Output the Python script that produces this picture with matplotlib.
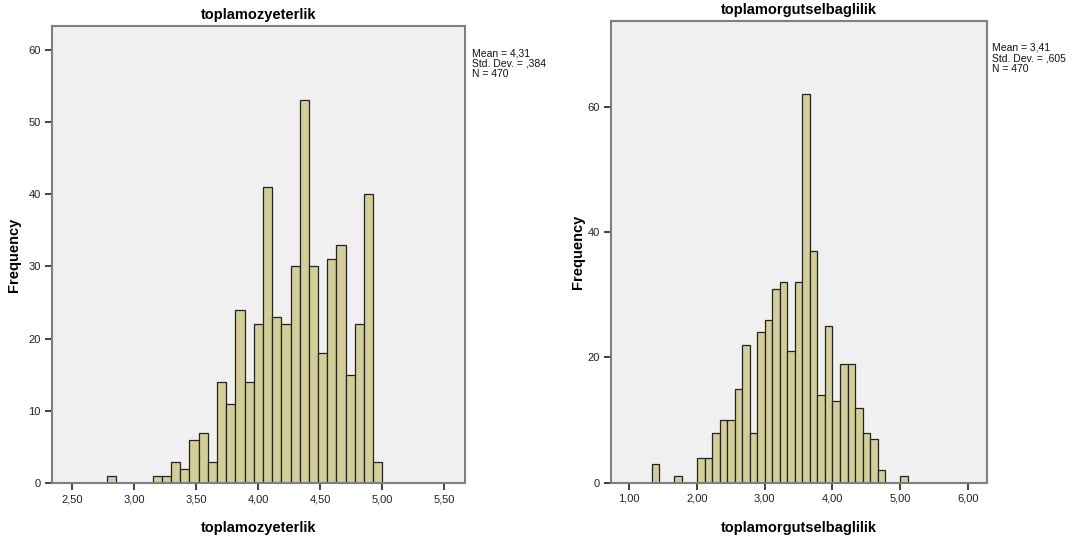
import matplotlib
matplotlib.use("Agg")
import matplotlib.pyplot as plt
import numpy as np

plt.rcParams["font.family"] = ["Liberation Sans", "DejaVu Sans"]

# toplamozyeterlik histogram (bin width 2/27, first bin starts at 2.778)
oz_bin_start = 5.0 - 30 * 2 / 27
oz_bin_width = 2 / 27
oz_counts = [1, 0, 0, 0, 0, 1, 1, 3, 2, 6, 7, 3, 14, 11, 24, 14, 22, 41, 23, 22,
             30, 53, 30, 18, 31, 33, 15, 22, 40, 3]
oz_xticks = [2.5, 3.0, 3.5, 4.0, 4.5, 5.0, 5.5]
oz_yticks = [0, 10, 20, 30, 40, 50, 60]
oz_stats = ["Mean = 4,31", "Std. Dev. = ,384", "N = 470"]

# toplamorgutselbaglilik histogram (bin width 1/9, first bin starts at 1.333)
org_bin_start = 1.0 + 3 / 9
org_bin_width = 1 / 9
org_counts = [3, 0, 0, 1, 0, 0, 4, 4, 8, 10, 10, 15, 22, 8, 24, 26, 31, 32, 21, 32,
              62, 37, 14, 25, 13, 19, 19, 12, 8, 7, 2, 0, 0, 1]
org_xticks = [1.0, 2.0, 3.0, 4.0, 5.0, 6.0]
org_yticks = [0, 20, 40, 60]
org_stats = ["Mean = 3,41", "Std. Dev. = ,605", "N = 470"]

BAR = "#d3ce97"
BG = "#f0f0f0"
FRAME = "#7f7f7f"


def draw_hist(ax, start, width, counts, xticks, yticks, xlim, ylim, name, stats,
              fig, stats_xy, ylab_x):
    counts = np.array(counts)
    lefts = start + np.arange(len(counts)) * width
    keep = counts > 0
    ax.bar(lefts[keep], counts[keep], width=width, align="edge",
           color=BAR, edgecolor="#222222", linewidth=0.9)
    ax.set_facecolor(BG)
    ax.set_xlim(*xlim)
    ax.set_ylim(*ylim)
    ax.set_xticks(xticks)
    ax.set_xticklabels([f"{t:.2f}".replace(".", ",") for t in xticks])
    ax.set_yticks(yticks)
    ax.tick_params(axis="both", direction="out", length=5, width=1.2,
                   labelsize=8, colors="#222222", pad=3)
    for s in ax.spines.values():
        s.set_color(FRAME)
        s.set_linewidth(1.5)
    ax.set_title(name, fontsize=10.5, fontweight="bold", pad=5)
    ax.set_xlabel(name, fontsize=10.5, fontweight="bold", labelpad=12)
    ax.set_ylabel("Frequency", fontsize=10.5, fontweight="bold")
    ax.yaxis.set_label_coords(ylab_x, 0.5)
    fig.text(stats_xy[0], stats_xy[1], "\n".join(stats), fontsize=7.5,
             va="top", ha="left", linespacing=1.05, color="#111111")


fig = plt.figure(figsize=(10.73, 5.43), dpi=100)
ax1 = fig.add_axes([0.0482, 0.1099, 0.3852, 0.8422])
ax2 = fig.add_axes([0.5694, 0.1110, 0.3504, 0.8503])

draw_hist(ax1, oz_bin_start, oz_bin_width, oz_counts, oz_xticks, oz_yticks,
          (2.334, 5.666), (0, 63.25), "toplamozyeterlik", oz_stats, fig,
          (472 / 1073, 1 - 48 / 543), -0.074)
draw_hist(ax2, org_bin_start, org_bin_width, org_counts, org_xticks, org_yticks,
          (0.73, 6.28), (0, 73.7), "toplamorgutselbaglilik", org_stats, fig,
          (992 / 1073, 1 - 43 / 543), -0.068)

fig.savefig("out.png", dpi=100)
